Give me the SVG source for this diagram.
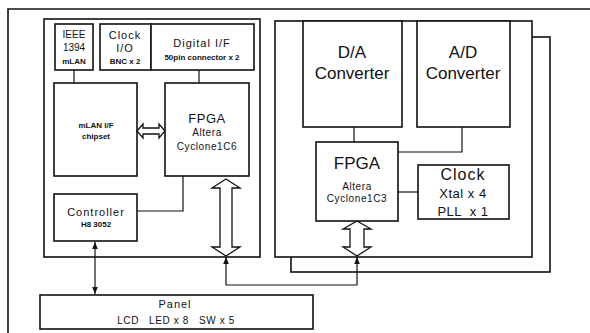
<svg xmlns="http://www.w3.org/2000/svg" width="590" height="333" viewBox="0 0 590 333">
<defs>
<style>
.b{fill:#fff;stroke:#111;stroke-width:1.6}
.bn{fill:none;stroke:#111;stroke-width:1.6}
.l{fill:none;stroke:#111;stroke-width:1.2}
.h{fill:#fff;stroke:#111;stroke-width:1.3;stroke-linejoin:miter}
text{font-family:"Liberation Sans",Arial,sans-serif;fill:#111;text-anchor:middle;dominant-baseline:central}
.s8{font-size:8px;font-weight:bold}
.s10{font-size:10px;letter-spacing:0.6px}
.s11{font-size:11px;letter-spacing:1px}
.s13{font-size:13px;letter-spacing:0.5px}
.s16{font-size:16px;letter-spacing:1px}
.s17{font-size:17px}
</style>
<marker id="ah" viewBox="0 0 10 10" refX="10" refY="5" markerWidth="6" markerHeight="6" orient="auto-start-reverse"><path d="M0,1 L10,5 L0,9 Z" fill="#111"/></marker>
</defs>
<rect width="590" height="333" fill="#fff"/>
<g id="frame"><path class="bn" d="M8,333 V9 H590"/></g>
<g id="left-board"><rect class="b" x="44" y="19" width="216" height="238"/></g>
<g id="back-board"><rect class="b" x="291" y="37" width="259" height="235"/></g>
<g id="right-board"><rect class="b" x="275" y="21" width="257" height="236"/></g>
<g id="ieee"><rect class="b" x="55" y="24" width="38" height="46"/>
<text x="74" y="34" font-size="10">IEEE</text><text x="74" y="47" font-size="10">1394</text><text class="s8" x="74" y="61">mLAN</text></g>
<g id="clock-io"><rect class="b" x="100" y="24" width="51" height="46"/>
<text class="s11" x="125" y="35">Clock</text><text class="s11" x="125" y="48">I/O</text><text class="s8" x="125" y="61">BNC x 2</text></g>
<g id="digital-if"><rect class="b" x="151" y="24" width="103" height="46"/>
<text class="s11" x="202" y="43">Digital I/F</text><text class="s8" x="202" y="57">50pin connector x 2</text></g>
<g id="mlan-chip"><rect class="b" x="54" y="83" width="83" height="93"/>
<text class="s8" x="96" y="125">mLAN I/F</text><text class="s8" x="96" y="136">chipset</text></g>
<g id="fpga-left"><rect class="b" x="165" y="83" width="84" height="93"/>
<text class="s13" x="207" y="118">FPGA</text><text class="s10" x="207" y="132">Altera</text><text class="s10" x="207" y="146">Cyclone1C6</text></g>
<g id="controller"><rect class="b" x="54" y="194" width="83" height="47"/>
<text class="s11" x="96" y="212">Controller</text><text class="s8" x="96" y="224">H8 3052</text></g>
<g id="panel"><rect class="b" x="40" y="295" width="273" height="34"/>
<text class="s11" x="175" y="304">Panel</text><text class="s10" x="176" y="320" xml:space="preserve">LCD   LED x 8   SW x 5</text></g>
<g id="da"><rect class="b" x="303" y="21" width="99" height="106"/>
<text class="s17" x="352" y="52">D/A</text><text class="s17" x="352" y="73">Converter</text></g>
<g id="ad"><rect class="b" x="417" y="21" width="93" height="106"/>
<text class="s17" x="463" y="52">A/D</text><text class="s17" x="463" y="73">Converter</text></g>
<g id="fpga-right"><rect class="b" x="316" y="142" width="82" height="79"/>
<text class="s17" x="357" y="163">FPGA</text><text class="s10" x="357" y="186">Altera</text><text class="s10" x="357" y="198">Cyclone1C3</text></g>
<g id="clock"><rect class="b" x="418" y="165" width="91" height="54"/>
<text class="s16" x="463" y="174">Clock</text><text class="s13" x="463" y="193" xml:space="preserve">Xtal x 4</text><text class="s13" x="463" y="211" xml:space="preserve">PLL  x 1</text></g>
<g id="connectors">
<path class="l" d="M74,70 V83"/>
<path class="l" d="M199,70 V83"/>
<path class="l" d="M137,211 H183 V176"/>
<path class="l" d="M354,127 V142"/>
<path class="l" d="M462,127 V152 H398"/>
<path class="l" d="M398,192 H418"/>
<path class="l" d="M95,242 V294" marker-start="url(#ah)" marker-end="url(#ah)"/>
<path class="l" d="M226,257 V285 H357 V257" marker-start="url(#ah)" marker-end="url(#ah)"/>
<polygon class="h" points="137,131 143,124 143,128 159,128 159,124 165,131 159,138 159,134 143,134 143,138"/>
<polygon class="h" points="226,179 240,188 232,188 232,247 240,247 226,256 212,247 220,247 220,188 212,188"/>
<polygon class="h" points="357,221 371,229 364,229 364,247 371,247 357,256 343,247 350,247 350,229 343,229"/>
</g>
</svg>
